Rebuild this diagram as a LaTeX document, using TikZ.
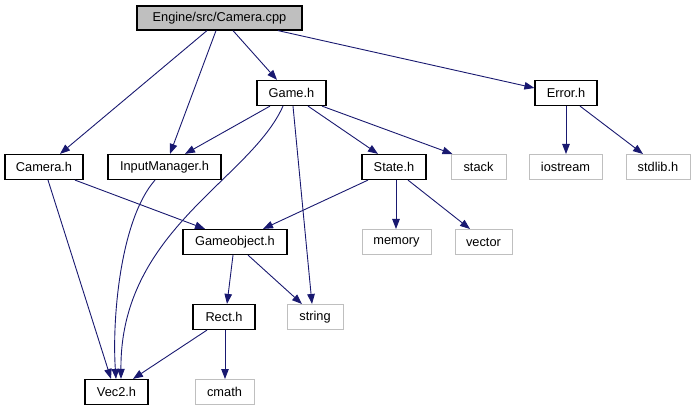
\documentclass[tikz,border=0pt]{standalone}
\usepackage{fontspec}
\setmainfont{Liberation Sans}
\usetikzlibrary{arrows.meta}
\definecolor{edgeblue}{HTML}{191970}
\definecolor{sysgray}{HTML}{BFBFBF}
\begin{document}
\begin{tikzpicture}[x=1pt,y=-1pt,
  box/.style={draw=black,line width=1.2pt,fill=white,inner sep=0pt,minimum height=25pt,font=\fontsize{12.8}{14}\selectfont},
  sysbox/.style={box,draw=sysgray,line width=1pt},
  rootbox/.style={box,fill=sysgray,minimum height=24pt},
  edge/.style={draw=edgeblue,line width=0.9pt,-{Triangle[length=10pt,width=7.5pt]}}]
\useasboundingbox (0,0) rectangle (695,411);
% nodes
\node[rootbox,minimum width=165pt] (cpp) at (219.5,18) {Engine/src/Camera.cpp};
\node[box,minimum width=69pt] (game) at (291.5,93) {Game.h};
\node[box,minimum width=62pt] (error) at (566,93) {Error.h};
\node[box,minimum width=78pt] (camh) at (44,167) {Camera.h};
\node[box,minimum width=113pt] (input) at (164.5,167) {InputManager.h};
\node[box,minimum width=64pt] (state) at (394,167) {State.h};
\node[sysbox,minimum width=55pt] (stack) at (478.5,167) {stack};
\node[sysbox,minimum width=73pt] (iostream) at (565.5,167) {iostream};
\node[sysbox,minimum width=64pt] (stdlib) at (658,167) {stdlib.h};
\node[box,minimum width=104pt] (gobj) at (235,242) {Gameobject.h};
\node[sysbox,minimum width=69pt] (memory) at (396.5,242) {memory};
\node[sysbox,minimum width=57pt] (vector) at (483.5,242) {vector};
\node[box,minimum width=62pt] (rect) at (224,317) {Rect.h};
\node[sysbox,minimum width=56pt] (string) at (315,317) {string};
\node[box,minimum width=63pt] (vec2) at (116.5,392) {Vec2.h};
\node[sysbox,minimum width=59pt] (cmath) at (224.5,392) {cmath};
% edges
\draw[edge] ([xshift=-12.5pt]cpp.south) -- ([xshift=16pt]camh.north);
\draw[edge] ([xshift=-3.5pt]cpp.south) -- ([xshift=5.5pt]input.north);
\draw[edge] ([xshift=13.5pt]cpp.south) -- ([xshift=-14.5pt]game.north);
\draw[edge] ([xshift=58.5pt]cpp.south) -- ([yshift=5pt]error.west);
\draw[edge] ([xshift=-21.5pt]game.south) -- ([xshift=20.5pt]input.north);
\draw[edge] ([xshift=-8.5pt]game.south) .. controls (250,180) and (120,230) .. ([xshift=4.5pt]vec2.north);
\draw[edge] ([xshift=1.5pt]game.south) -- ([xshift=-3pt]string.north);
\draw[edge] ([xshift=16.5pt]game.south) -- ([xshift=-16pt]state.north);
\draw[edge] ([xshift=30.5pt]game.south) -- ([xshift=2pt]stack.north west);
\draw[edge] ([xshift=4pt]camh.south) -- ([xshift=-5.5pt]vec2.north);
\draw[edge] ([xshift=31pt]camh.south) -- ([xshift=-30pt]gobj.north);
\draw[edge] ([xshift=-9.5pt]input.south) .. controls (120,220) and (112,320) .. ([xshift=-0.5pt]vec2.north);
\draw[edge] ([xshift=-26pt]state.south) -- ([xshift=28pt]gobj.north);
\draw[edge] ([xshift=2pt]state.south) -- ([xshift=-0.5pt]memory.north);
\draw[edge] ([xshift=14pt]state.south) -- ([xshift=-13.5pt]vector.north);
\draw[edge] ([xshift=-2pt]gobj.south) -- ([xshift=3pt]rect.north);
\draw[edge] ([xshift=13pt]gobj.south) -- ([xshift=-13pt]string.north);
\draw[edge] ([xshift=-17pt]rect.south) -- ([xshift=16.5pt]vec2.north);
\draw[edge] ([xshift=1pt]rect.south) -- ([xshift=0.5pt]cmath.north);
\draw[edge] (error.south) -- ([xshift=0.5pt]iostream.north);
\draw[edge] ([xshift=14pt]error.south) -- ([xshift=-15pt]stdlib.north);
\end{tikzpicture}
\end{document}
